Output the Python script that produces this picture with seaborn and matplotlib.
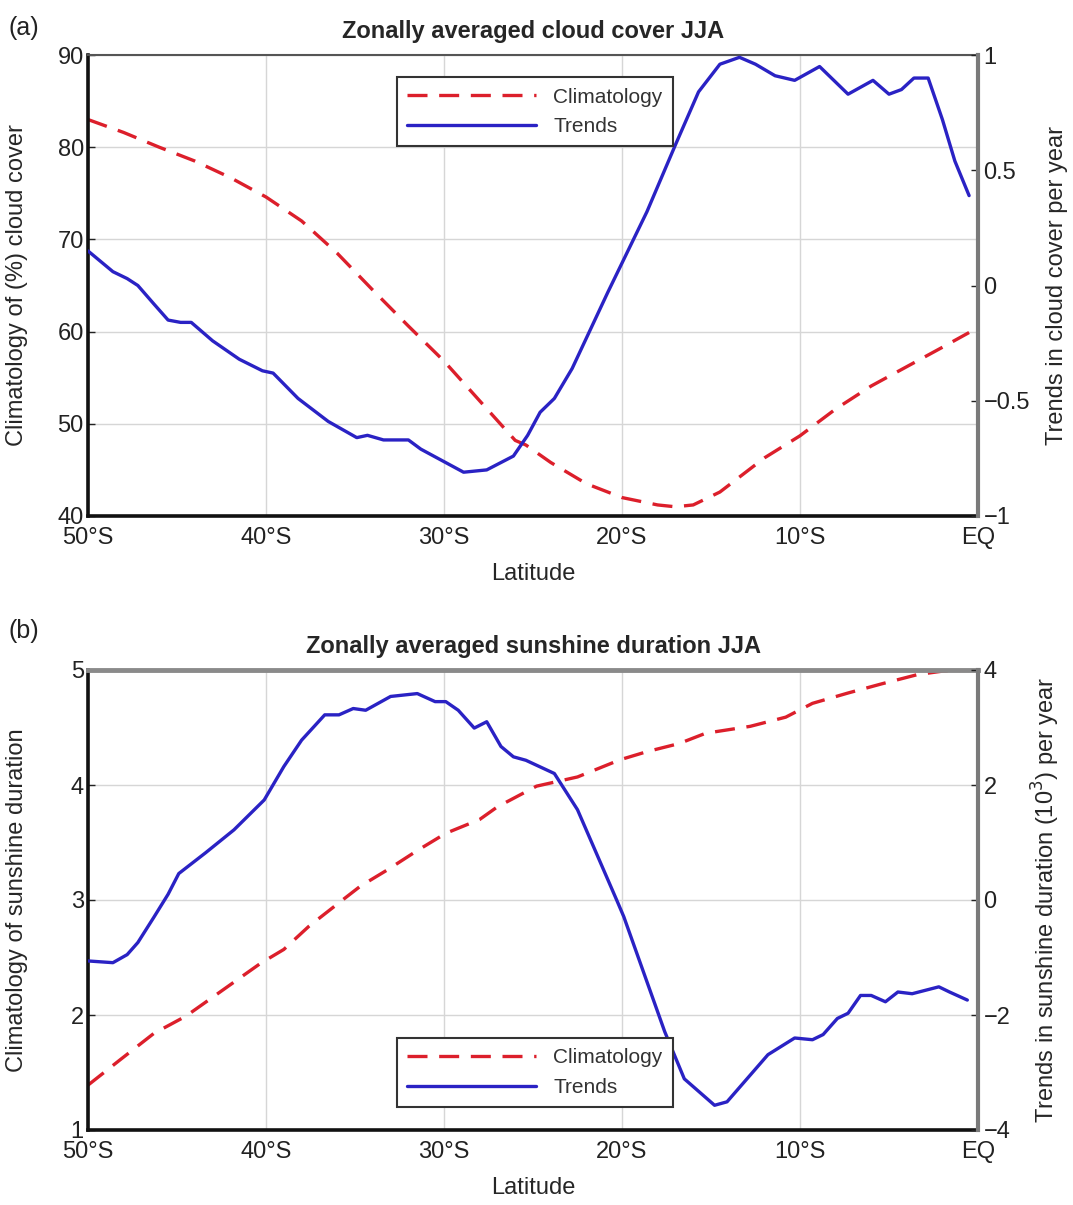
import numpy as np
import pandas as pd
import seaborn as sns
import matplotlib.pyplot as plt
from matplotlib.lines import Line2D

# ---------------- data ----------------
# (a) cloud cover JJA, climatology (%) on left axis
lat_clim_a = [-50, -48, -46, -44, -42, -40, -38, -36, -34, -32, -30, -28, -26, -25.4,
              -24, -22, -20, -18, -17, -16, -14.5, -12, -10, -8, -6, -4, -2, -0.5]
clim_a = [83.0, 81.6, 80.0, 78.5, 76.7, 74.6, 72.0, 68.5, 64.5, 60.6, 56.8, 52.5, 48.2, 47.7,
          45.8, 43.5, 42.0, 41.2, 41.0, 41.2, 42.6, 46.3, 48.7, 51.6, 54.1, 56.2, 58.3, 59.9]

# (a) trends in cloud cover per year on right axis
lat_trend_a = [-50, -48.6, -47.8, -47.2, -46.3, -45.5, -44.8, -44.2, -43.0, -41.5, -40.2, -39.6,
               -38.2, -36.5, -34.9, -34.3, -33.4, -32.0, -31.3, -28.9, -27.6, -26.1, -25.3,
               -24.6, -23.8, -22.8, -20.8, -18.6, -17.0, -15.7, -14.5, -13.4, -12.5, -11.4,
               -10.3, -8.9, -7.3, -5.9, -5.0, -4.3, -3.6, -2.8, -2.0, -1.3, -0.5]
trend_a = [0.15, 0.06, 0.03, 0.0, -0.08, -0.15, -0.16, -0.16, -0.24, -0.32, -0.37, -0.38,
           -0.49, -0.59, -0.66, -0.65, -0.67, -0.67, -0.71, -0.81, -0.80, -0.74, -0.65,
           -0.55, -0.49, -0.36, -0.03, 0.32, 0.61, 0.84, 0.96, 0.99, 0.96, 0.91,
           0.89, 0.95, 0.83, 0.89, 0.83, 0.85, 0.90, 0.90, 0.72, 0.54, 0.39]

# (b) sunshine duration JJA, climatology on left axis
lat_clim_b = [-50, -48.2, -46.3, -44.5, -42.4, -40.3, -39.0, -37.6, -35.7, -34.7, -33.2, -31.5,
              -29.9, -28.0, -27.0, -24.8, -22.5, -20.1, -18.6, -16.8, -15.3, -12.8, -10.8,
              -9.3, -7.3, -5.4, -3.4, -2.0, -0.5]
clim_b = [1.39, 1.61, 1.84, 1.99, 2.22, 2.45, 2.57, 2.77, 3.00, 3.12, 3.26, 3.43,
          3.58, 3.70, 3.81, 3.99, 4.07, 4.22, 4.29, 4.36, 4.45, 4.51, 4.59,
          4.71, 4.80, 4.88, 4.96, 4.99, 5.00]

# (b) trends in sunshine duration (10^3) per year on right axis
lat_trend_b = [-50, -48.6, -47.8, -47.2, -46.3, -45.5, -44.9, -43.4, -41.8, -40.1, -39.0, -38.0,
               -36.7, -35.9, -35.1, -34.4, -33.0, -31.5, -30.5, -29.9, -29.2, -28.3, -27.6,
               -26.8, -26.1, -25.4, -23.8, -22.5, -20.3, -19.9, -17.6, -16.5, -14.8, -14.1,
               -11.8, -10.3, -9.3, -8.7, -7.9, -7.3, -6.6, -6.0, -5.2, -4.5, -3.7, -2.2,
               -1.6, -0.6]
trend_b = [-1.06, -1.09, -0.95, -0.74, -0.30, 0.10, 0.46, 0.82, 1.22, 1.74, 2.32, 2.78,
           3.22, 3.22, 3.33, 3.30, 3.54, 3.59, 3.45, 3.45, 3.30, 2.99, 3.10,
           2.67, 2.49, 2.43, 2.20, 1.57, 0.0, -0.29, -2.29, -3.11, -3.57, -3.51,
           -2.69, -2.40, -2.43, -2.34, -2.06, -1.97, -1.66, -1.66, -1.77, -1.60, -1.63, -1.51,
           -1.60, -1.74]

xticks = [-50, -40, -30, -20, -10, 0]
xticklabels = ['50°S', '40°S', '30°S', '20°S', '10°S', 'EQ']

# ---------------- style ----------------
sns.set_style('white')
plt.rcParams['font.family'] = ['Liberation Sans', 'DejaVu Sans']

red = '#dc1f2b'
blue = '#2a22c4'
dash = (0, (6, 3.5))
fs = 17

fig = plt.figure(figsize=(10.73, 12.05), dpi=100)
W, H = 1073, 1205


def panel(rect, lat_c, clim, lat_t, trend, ylim_l, yticks_l, ylim_r, yticks_r, yticklabels_r,
          title, ylab_l, ylab_r, leg_y, top_color, top_lw, rlab_x):
    ax = fig.add_axes(rect)
    sns.lineplot(x=lat_c, y=clim, ax=ax, color=red, lw=2.4, linestyle=dash)
    ax.set_xlim(-50, 0)
    ax.set_ylim(*ylim_l)
    ax.set_yticks(yticks_l)
    ax.set_xticks(xticks)
    ax.set_xticklabels(xticklabels)
    ax.grid(True, color='#d6d6d6', lw=1)
    ax.tick_params(direction='in', length=5, width=1, labelsize=fs, pad=3, colors='#222')
    ax.tick_params(axis='x', pad=8)
    for s in ['left', 'bottom']:
        ax.spines[s].set_color('#111')
        ax.spines[s].set_linewidth(2.6)
    ax.spines['top'].set_color(top_color)
    ax.spines['top'].set_linewidth(top_lw)
    ax.spines['right'].set_visible(False)
    ax.set_xlabel('Latitude', fontsize=fs, labelpad=10)
    ax.set_ylabel(ylab_l, fontsize=fs)
    ax.yaxis.set_label_coords(-0.067, 0.5)
    ax.set_title(title, fontsize=fs, fontweight='bold', pad=12)

    ax2 = ax.twinx()
    sns.lineplot(x=lat_t, y=trend, ax=ax2, color=blue, lw=2.4)
    ax2.set_xlim(-50, 0)
    ax2.set_ylim(*ylim_r)
    ax2.set_yticks(yticks_r)
    ax2.set_yticklabels(yticklabels_r)
    ax2.tick_params(direction='in', length=5, width=1, labelsize=fs, pad=4, colors='#222')
    for s in ['left', 'bottom', 'top']:
        ax2.spines[s].set_visible(False)
    ax2.spines['right'].set_color('#7a7a7a')
    ax2.spines['right'].set_linewidth(3)
    ax2.set_ylabel(ylab_r, fontsize=fs)
    ax2.yaxis.set_label_coords(rlab_x, 0.5)

    handles = [Line2D([], [], color=red, lw=2.4, linestyle=dash),
               Line2D([], [], color=blue, lw=2.4)]
    leg = ax2.legend(handles, ['Climatology', 'Trends'], loc='upper left',
                     bbox_to_anchor=(0.347, leg_y), borderaxespad=0, fontsize=15,
                     handlelength=6.2, handletextpad=0.8, labelspacing=0.5,
                     borderpad=0.5, fancybox=False, framealpha=1)
    leg.get_frame().set_edgecolor('#333')
    leg.get_frame().set_linewidth(1.5)
    for t in leg.get_texts():
        t.set_color('#333')
    return ax, ax2


panel([88 / W, 1 - 516 / H, 890 / W, 461 / H], lat_clim_a, clim_a, lat_trend_a, trend_a,
      (40, 90), [40, 50, 60, 70, 80, 90], (-1, 1), [-1, -0.5, 0, 0.5, 1],
      ['\u22121', '\u22120.5', '0', '0.5', '1'],
      'Zonally averaged cloud cover JJA', 'Climatology of (%) cloud cover',
      'Trends in cloud cover per year', 0.952, '#555555', 1.5, 1.076)

panel([88 / W, 1 - 1130 / H, 890 / W, 460 / H], lat_clim_b, clim_b, lat_trend_b, trend_b,
      (1, 5), [1, 2, 3, 4, 5], (-4, 4), [-4, -2, 0, 2, 4],
      ['\u22124', '\u22122', '0', '2', '4'],
      'Zonally averaged sunshine duration JJA', 'Climatology of sunshine duration',
      'Trends in sunshine duration (10$^3$) per year', 0.2, '#8a8a8a', 3.5, 1.058)

fig.text(0.008, 0.987, '(a)', fontsize=fs + 1, color='#222', va='top')
fig.text(0.008, 0.486, '(b)', fontsize=fs + 1, color='#222', va='top')

fig.savefig('out.png', dpi=100)
